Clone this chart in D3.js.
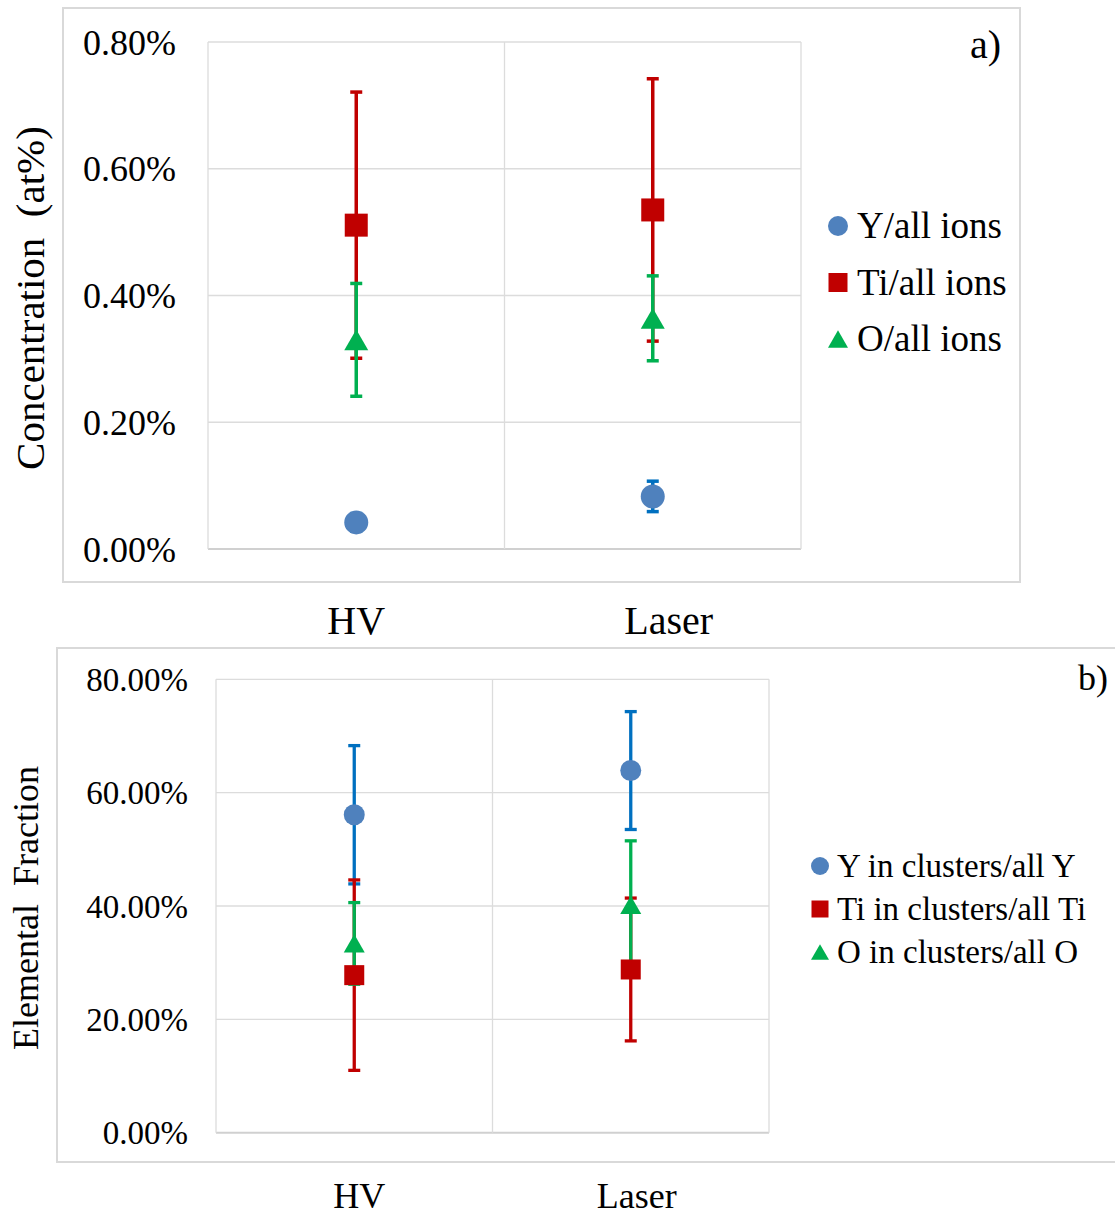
<!DOCTYPE html>
<html>
<head>
<meta charset="utf-8">
<script src="https://cdn.jsdelivr.net/npm/d3@7"></script>
<style>
  body { margin: 0; background: #ffffff; }
  svg text { font-family: "Liberation Serif", "Times New Roman", serif; fill: #000; }
</style>
</head>
<body>
<script>
// categories
var categories = ["HV", "Laser"];

// panel a) concentration (at%)
var a_names = ["Y/all ions", "Ti/all ions", "O/all ions"];
var a_y_val = [0.042, 0.083];
var a_y_err = [0.014, 0.024];
var a_ti_val = [0.511, 0.535];
var a_ti_err = [0.21, 0.207];
var a_o_val = [0.33, 0.364];
var a_o_err = [0.089, 0.067];
var a_ticks = [0, 0.2, 0.4, 0.6, 0.8];

// panel b) elemental fraction (%)
var b_names = ["Y in clusters/all Y", "Ti in clusters/all Ti", "O in clusters/all O"];
var b_y_val = [56.1, 63.9];
var b_y_err = [12.2, 10.4];
var b_ti_val = [27.8, 28.8];
var b_ti_err = [16.8, 12.6];
var b_o_val = [33.4, 40.2];
var b_o_err = [7.2, 11.3];
var b_ticks = [0, 20, 40, 60, 80];

var W = 1115, H = 1215;
var svg = d3.select("body").append("svg")
  .attr("width", W)
  .attr("height", H);

// marker fill / error bar colour per series
var fills = ["#4f81bd", "#c00000", "#00b050"];
var errColors = ["#0070c0", "#c00000", "#00b050"];
var shapes = ["circle", "square", "triangle"];

function drawPanel(p){
  var g = svg.append("g");

  // outer frame
  g.append("rect")
  .attr("x", p.box[0]).attr("y", p.box[1])
  .attr("width", p.box[2]).attr("height", p.box[3])
  .style("fill", "none")
  .style("stroke", "#d9d9d9")
  .style("stroke-width", 2);

  var x = d3.scaleBand()
  .domain(categories)
  .range([p.left, p.right])
  .padding(0);

  var y = d3.scaleLinear()
  .domain([0, p.max])
  .range([p.bottom, p.top]);

  // horizontal gridlines
  g.selectAll("line.hgrid")
  .data(p.ticks)
  .enter()
  .append("line")
  .attr("class", "hgrid")
  .attr("x1", p.left).attr("x2", p.right)
  .attr("y1", function(d){ return y(d); })
  .attr("y2", function(d){ return y(d); })
  .style("stroke", function(d){ return d == 0 ? "#d0d0d0" : "#dcdcdc"; })
  .style("stroke-width", function(d){ return d == 0 ? 2 : 1.3; });

  // vertical gridlines at category boundaries
  var bounds = categories.map(function(c){ return x(c); }).concat([p.right]);
  g.selectAll("line.vgrid")
  .data(bounds)
  .enter()
  .append("line")
  .attr("class", "vgrid")
  .attr("x1", function(d){ return d; }).attr("x2", function(d){ return d; })
  .attr("y1", p.top).attr("y2", p.bottom)
  .style("stroke", "#dcdcdc")
  .style("stroke-width", 1.3);

  // tick labels
  g.selectAll("text.ytick")
  .data(p.ticks)
  .enter()
  .append("text")
  .attr("class", "ytick")
  .attr("x", p.left - p.tickGap)
  .attr("y", function(d){ return y(d); })
  .attr("dy", "0.35em")
  .attr("text-anchor", "end")
  .style("font-size", p.tickSize + "px")
  .text(function(d){ return d3.format(".2f")(d) + "%"; });

  // axis title
  g.append("text")
  .attr("transform", "translate(" + p.titleX + "," + p.titleY + ") rotate(-90)")
  .attr("text-anchor", "middle")
  .attr("dy", "0.35em")
  .style("font-size", p.titleSize + "px")
  .style("white-space", "pre")
  .text(p.title);

  // category labels
  g.selectAll("text.xcat")
  .data(categories)
  .enter()
  .append("text")
  .attr("class", "xcat")
  .attr("x", function(d, i){ return x(d) + x.bandwidth() / 2 + p.catDx[i]; })
  .attr("y", p.catY)
  .attr("text-anchor", "middle")
  .style("font-size", p.catSize + "px")
  .text(function(d){ return d; });

  // panel letter
  g.append("text")
  .attr("x", p.letterX).attr("y", p.letterY)
  .attr("text-anchor", "end")
  .style("font-size", p.catSize + "px")
  .text(p.letter);

  var cx = function(i){ return x(categories[i]) + x.bandwidth() / 2; };

  // error bars first, all series
  p.series.forEach(function(s, si){
    var eb = g.append("g");
    s.val.forEach(function(v, i){
      var hi = y(v + s.err[i]), lo = y(Math.max(0, v - s.err[i]));
      eb.append("line")
      .attr("x1", cx(i)).attr("x2", cx(i))
      .attr("y1", hi).attr("y2", lo)
      .style("stroke", errColors[si])
      .style("stroke-width", p.errW);
      [hi, lo].forEach(function(yy){
        eb.append("line")
        .attr("x1", cx(i) - p.cap).attr("x2", cx(i) + p.cap)
        .attr("y1", yy).attr("y2", yy)
        .style("stroke", errColors[si])
        .style("stroke-width", p.errW);
      });
    });
  });

  // markers on top
  p.series.forEach(function(s, si){
    s.val.forEach(function(v, i){
      drawMarker(g, shapes[si], cx(i), y(v), p.mk, fills[si]);
    });
  });

  // legend
  p.names.forEach(function(n, i){
    var ly = p.legY + i * p.legStep;
    drawMarker(g, shapes[i], p.legX, ly, p.legMk, fills[i]);
    g.append("text")
    .attr("x", p.legX + p.legMk / 2 + p.legGap)
    .attr("y", ly)
    .attr("dy", "0.33em")
    .style("font-size", p.legSize + "px")
    .text(n);
  });
}

function drawMarker(g, shape, x, y, size, fill){
  if(shape == "circle"){
    g.append("circle")
    .attr("cx", x).attr("cy", y).attr("r", size / 2)
    .style("fill", fill);
  } else if(shape == "square"){
    g.append("rect")
    .attr("x", x - size / 2 + 0.5).attr("y", y - size / 2 + 0.5)
    .attr("width", size - 1).attr("height", size - 1)
    .style("fill", fill);
  } else {
    var h = size * 0.87;
    g.append("path")
    .attr("d", "M" + x + "," + (y - h / 2) + "L" + (x + size / 2) + "," + (y + h / 2) + "L" + (x - size / 2) + "," + (y + h / 2) + "Z")
    .style("fill", fill);
  }
}

drawPanel({
  box: [63, 8, 957, 574],
  left: 208, right: 801, top: 42, bottom: 549,
  max: 0.8, ticks: a_ticks,
  tickGap: 32, tickSize: 36,
  title: "Concentration  (at%)", titleX: 30, titleY: 298, titleSize: 41,
  catY: 634, catSize: 40, catDx: [0, 16],
  letter: "a)", letterX: 1001, letterY: 58,
  errW: 3.5, cap: 6, mk: 24,
  series: [
    {val: a_y_val, err: a_y_err},
    {val: a_ti_val, err: a_ti_err},
    {val: a_o_val, err: a_o_err}
  ],
  names: a_names,
  legX: 838, legY: 226, legStep: 56.5, legMk: 20, legSize: 37, legGap: 9
});

drawPanel({
  box: [57, 648, 1070, 514],
  left: 216, right: 769, top: 679.3, bottom: 1132.7,
  max: 80, ticks: b_ticks,
  tickGap: 28, tickSize: 33,
  title: "Elemental  Fraction", titleX: 25, titleY: 908, titleSize: 36,
  catY: 1208, catSize: 36, catDx: [5, 6],
  letter: "b)", letterX: 1108, letterY: 690,
  errW: 3.3, cap: 6, mk: 21,
  series: [
    {val: b_y_val, err: b_y_err},
    {val: b_ti_val, err: b_ti_err},
    {val: b_o_val, err: b_o_err}
  ],
  names: b_names,
  legX: 820, legY: 866, legStep: 43, legMk: 18, legSize: 33, legGap: 8
});
</script>
</body>
</html>
